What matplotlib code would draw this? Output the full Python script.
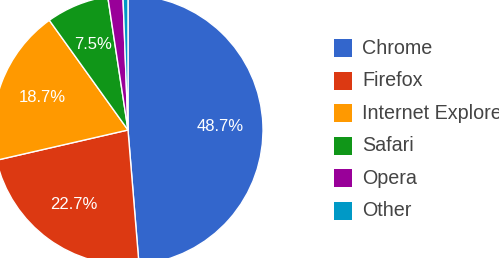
import matplotlib
matplotlib.use("Agg")
import matplotlib.pyplot as plt
from matplotlib.patches import Rectangle

# Dados
browsers = ["Chrome", "Firefox", "Internet Explorer", "Safari", "Opera", "Other"]
share = [48.7, 22.7, 18.7, 7.5, 1.8, 0.6]
colors = ["#3366CC", "#DC3912", "#FF9900", "#109618", "#990099", "#0099C6"]

W, H = 499, 258
fig = plt.figure(figsize=(W / 100, H / 100), dpi=100)
plt.rcParams['font.family'] = ['Liberation Sans', 'DejaVu Sans']

# pie axes: centro ~ (128,130) px, raio ~135 px
cx, cy, r = 128, 130, 135
ax = fig.add_axes([(cx - r) / W, (H - cy - r) / H, 2 * r / W, 2 * r / H])


def pct_label(p):
    return "%.1f%%" % p if p >= 5 else ""


wedges, texts, autotexts = ax.pie(
    share, colors=colors, startangle=90, counterclock=False,
    autopct=pct_label, pctdistance=0.68,
    wedgeprops=dict(edgecolor="white", linewidth=1),
    textprops=dict(color="white", fontsize=12))
ax.set_xlim(-1, 1)
ax.set_ylim(-1, 1)
ax.set_aspect("equal")
ax.axis("off")

# legenda manual (o texto do IE sai cortado na borda como no original)
row0, step = 48, 32.6
for i, (name, c) in enumerate(zip(browsers, colors)):
    yc = row0 + i * step
    fig.patches.append(Rectangle((334 / W, (H - yc - 9) / H), 18 / W, 18 / H,
                                 transform=fig.transFigure, facecolor=c,
                                 edgecolor="none"))
    fig.text(362 / W, (H - yc) / H, name, fontsize=14.2, color="#444444",
             va="center", ha="left")

fig.savefig("out.png", dpi=100)
